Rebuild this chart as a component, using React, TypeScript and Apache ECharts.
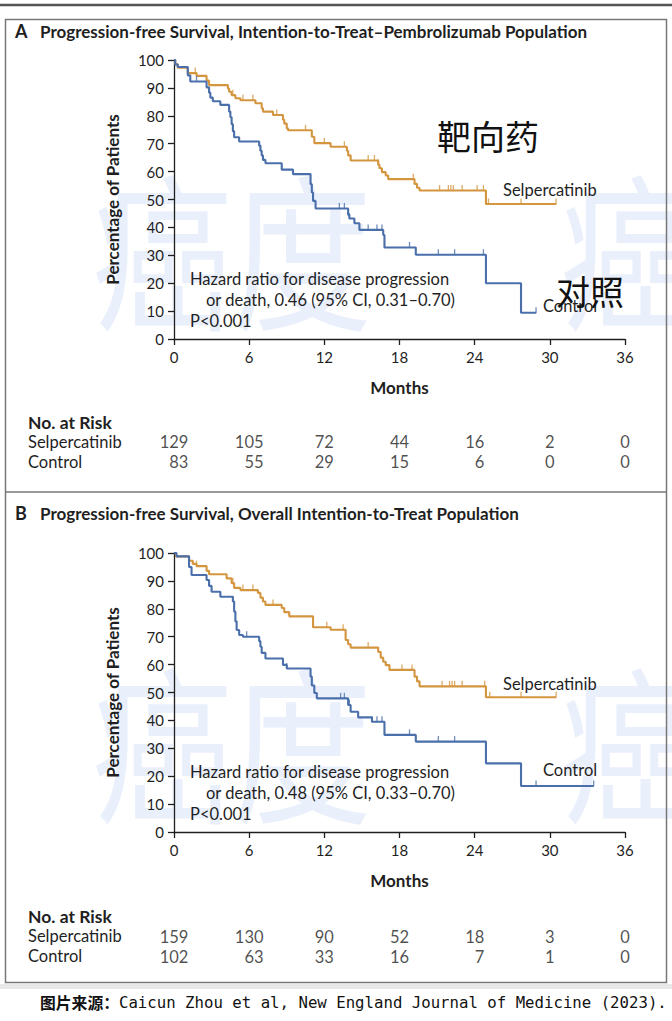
import React, { useEffect, useRef } from "react";
import * as echarts from "echarts";

// ---------- DATA ----------
const monthTicks = [0, 6, 12, 18, 24, 30, 36];

// Panel A: Intention-to-Treat–Pembrolizumab population  [month, % progression-free]
const selA: [number, number][] = [
  [0, 100], [0.1, 98.5], [0.3, 97.2], [1.1, 95.3], [1.8, 94.3], [2.6, 92.6], [2.8, 91.0],
  [4.3, 89.8], [4.4, 88.6], [4.6, 87.4], [4.9, 86.3], [5.3, 85.6], [6.5, 84.5], [7.0, 82.7],
  [7.1, 81.5], [7.9, 80.3], [8.7, 78.6], [8.8, 77.2], [9.0, 75.5], [9.1, 74.8], [11.0, 72.5],
  [11.2, 70.2], [12.5, 68.9], [13.8, 67.5], [13.9, 65.8], [14.1, 64.0], [16.3, 62.5],
  [16.4, 61.2], [16.6, 59.8], [16.9, 58.6], [17.1, 57.3], [19.2, 55.6], [19.4, 54.2],
  [19.6, 53.2], [24.9, 48.4], [30.5, 48.4],
];
const ctrlA: [number, number][] = [
  [0, 100], [0.1, 98.4], [0.3, 97.5], [1.1, 94.5], [1.3, 92.3], [2.6, 90.2], [2.8, 88.3],
  [2.9, 86.5], [3.1, 85.2], [3.7, 83.9], [4.4, 81.5], [4.5, 79.5], [4.6, 77.0], [4.7, 74.5],
  [4.8, 72.3], [5.2, 70.8], [6.8, 69.3], [6.9, 67.5], [7.0, 65.8], [7.1, 64.2], [7.3, 63.0],
  [8.6, 60.7], [9.5, 59.1], [10.9, 55.5], [11.0, 52.5], [11.1, 49.5], [11.3, 46.8],
  [13.9, 44.5], [14.0, 43.2], [14.4, 41.5], [14.8, 39.1], [16.7, 37.3], [16.8, 32.8],
  [19.3, 30.2], [24.9, 20.0], [27.7, 9.4], [28.9, 9.4],
];
const censorSelA = [1.7, 4.7, 5.5, 6.3, 8.2, 10.5, 12.0, 13.6, 15.5, 16.0, 16.3, 19.1, 21.2, 21.9, 22.1, 22.3, 23.0, 24.2, 24.7, 25.1, 27.7, 30.5];
const censorCtrlA = [1.8, 4.7, 6.9, 13.2, 13.6, 14.0, 15.5, 16.2, 16.6, 18.8, 21.1, 22.4, 24.7, 28.9];

// Panel B: Overall Intention-to-Treat population
const selB: [number, number][] = [
  [0, 100], [0.15, 98.8], [1.2, 97.2], [1.5, 96.1], [1.8, 95.3], [2.6, 93.6], [2.8, 92.4],
  [4.2, 90.9], [4.6, 89.2], [4.8, 87.5], [5.3, 86.7], [6.7, 85.7], [6.9, 84.0], [7.1, 82.6],
  [7.3, 81.4], [8.6, 80.3], [8.8, 78.8], [9.2, 77.3], [11.1, 73.4], [12.5, 72.5], [13.7, 68.8],
  [13.9, 67.3], [14.1, 66.1], [16.3, 64.5], [16.5, 62.5], [16.7, 61.0], [16.9, 59.8],
  [17.2, 58.1], [19.2, 55.7], [19.4, 54.0], [19.6, 52.2], [24.9, 48.3], [30.5, 48.3],
];
const ctrlB: [number, number][] = [
  [0, 100], [0.2, 98.8], [1.2, 95.0], [1.4, 92.1], [2.6, 90.3], [2.8, 88.2], [3.0, 86.1],
  [3.7, 84.3], [4.7, 82.6], [4.8, 79.0], [4.9, 75.5], [5.0, 72.4], [5.2, 70.6], [5.5, 70.0],
  [6.8, 68.4], [6.9, 66.4], [7.0, 64.2], [7.3, 62.2], [8.7, 59.9], [9.0, 58.6], [10.9, 55.7],
  [11.0, 52.5], [11.2, 49.8], [11.4, 47.9], [13.9, 45.5], [14.1, 43.1], [14.7, 41.1],
  [15.8, 39.5], [16.8, 34.8], [19.3, 32.4], [24.9, 24.6], [27.7, 16.5], [33.5, 16.5],
];
const censorSelB = [1.8, 4.7, 5.5, 6.3, 7.9, 11.1, 12.2, 13.5, 15.5, 18.2, 19.0, 21.4, 22.0, 22.2, 22.4, 23.0, 24.8, 25.2, 27.7, 30.5];
const censorCtrlB = [4.7, 5.8, 9.0, 13.3, 13.6, 14.0, 15.8, 16.2, 16.6, 18.8, 21.1, 22.4, 28.9, 33.5];

// Numbers at risk
const riskRows = ["Selpercatinib", "Control"];
const riskSelA = [129, 105, 72, 44, 16, 2, 0];
const riskCtrlA = [83, 55, 29, 15, 6, 0, 0];
const riskSelB = [159, 130, 90, 52, 18, 3, 0];
const riskCtrlB = [102, 63, 33, 16, 7, 1, 0];

// Texts
const titleA = "Progression-free Survival, Intention-to-Treat–Pembrolizumab Population";
const titleB = "Progression-free Survival, Overall Intention-to-Treat Population";
const hazardA = ["Hazard ratio for disease progression", "or death, 0.46 (95% CI, 0.31–0.70)", "P<0.001"];
const hazardB = ["Hazard ratio for disease progression", "or death, 0.48 (95% CI, 0.33–0.70)", "P<0.001"];

const SEL = "#D4953F";
const CTRL = "#4A6FAB";
const INK = "#1f1f1f";
const FONT = "Lato";
const BODY = 16.5;

function stepValue(data: [number, number][], t: number) {
  let v = data[0][1];
  for (const [x, y] of data) {
    if (x <= t) v = y;
    else break;
  }
  return v;
}

function kmSeries(data: [number, number][], censors: number[], color: string, gi: number) {
  return [
    {
      type: "line",
      xAxisIndex: gi,
      yAxisIndex: gi,
      data,
      step: "end",
      showSymbol: false,
      symbol: "none",
      lineStyle: { color, width: 2.1 },
      z: 5,
    },
    {
      type: "scatter",
      xAxisIndex: gi,
      yAxisIndex: gi,
      data: censors.map((t) => [t, stepValue(data, t)]),
      symbol: "rect",
      symbolSize: [1.3, 6],
      symbolOffset: [0, -2.5],
      itemStyle: { color },
      z: 6,
    },
  ];
}

function riskSeries(sel: number[], ctrl: number[], gi: number) {
  const data: any[] = [];
  monthTicks.forEach((m, i) => {
    const digits = Math.max(String(sel[i]).length, String(ctrl[i]).length);
    const dx = digits * 4.8;
    data.push({ value: [m, riskRows[0], sel[i]], label: { offset: [dx, 0] } });
    data.push({ value: [m, riskRows[1], ctrl[i]], label: { offset: [dx, 0] } });
  });
  return {
    type: "scatter",
    xAxisIndex: gi,
    yAxisIndex: gi,
    data,
    symbolSize: 1,
    itemStyle: { color: "rgba(0,0,0,0)" },
    label: {
      show: true,
      position: "inside",
      align: "right",
      verticalAlign: "middle",
      formatter: (p: any) => String(p.value[2]),
      fontSize: BODY,
      fontFamily: FONT,
      color: INK,
    },
  };
}

function plotXAxis(gi: number) {
  return {
    type: "value",
    gridIndex: gi,
    min: 0,
    max: 36,
    interval: 6,
    axisLine: { show: true, lineStyle: { color: INK, width: 1.3 } },
    axisTick: { show: true, length: 6, lineStyle: { color: INK, width: 1.3 } },
    axisLabel: { fontSize: 15, color: INK, margin: 10, fontFamily: FONT },
    splitLine: { show: false },
    name: "Months",
    nameLocation: "middle",
    nameGap: 40,
    nameTextStyle: { fontSize: 17, fontWeight: "bold", color: INK, fontFamily: FONT },
  };
}
function plotYAxis(gi: number) {
  return {
    type: "value",
    gridIndex: gi,
    min: 0,
    max: 100,
    interval: 10,
    axisLine: { show: true, lineStyle: { color: INK, width: 1.3 } },
    axisTick: { show: true, length: 6, lineStyle: { color: INK, width: 1.3 } },
    axisLabel: { fontSize: 15, color: INK, margin: 10, fontFamily: FONT },
    splitLine: { show: false },
    name: "Percentage of Patients",
    nameLocation: "middle",
    nameGap: 53,
    nameTextStyle: { fontSize: 17, fontWeight: "bold", color: INK, fontFamily: FONT },
  };
}
function riskXAxis(gi: number) {
  return { type: "value", gridIndex: gi, min: 0, max: 36, interval: 6, show: false };
}
function riskYAxis(gi: number) {
  return { type: "category", gridIndex: gi, data: riskRows, inverse: true, show: false };
}

function txt(x: number, y: number, text: string, extra: any = {}) {
  return {
    type: "text",
    x,
    y,
    silent: true,
    style: {
      text,
      fontFamily: FONT,
      fontSize: BODY,
      fill: INK,
      verticalAlign: "middle",
      ...extra,
    },
  };
}

function watermark(x: number, y: number, text: string) {
  return {
    type: "text",
    x,
    y,
    z: -1,
    scaleY: 1.2,
    silent: true,
    style: {
      text,
      fontFamily: "Noto Sans CJK SC",
      fontSize: 140,
      fill: "#eaf0fb",
      verticalAlign: "middle",
    },
  };
}

function panelTexts(dyTitle: number, dy: number, title: string, letter: string, hazard: string[], risk: number) {
  return [
    txt(15, 31 + dyTitle, letter, { fontSize: 18, fontWeight: "bold" }),
    txt(40, 31 + dyTitle, title, { fontSize: 17, fontWeight: "bold" }),
    txt(190, 279 + dy, hazard[0]),
    txt(206, 300 + dy, hazard[1]),
    txt(190, 321 + dy, hazard[2]),
    txt(28, 422 + risk, "No. at Risk", { fontSize: 17.5, fontWeight: "bold" }),
    txt(28, 442 + risk, riskRows[0]),
    txt(28, 462 + risk, riskRows[1]),
  ];
}

export default function App() {
  const ref = useRef<HTMLDivElement>(null);
  useEffect(() => {
    document.body.style.margin = "0";
    const chart = echarts.init(ref.current!, undefined, { renderer: "svg" });
    const DB = 493; // vertical offset of panel B plot
    chart.setOption({
      animation: false,
      backgroundColor: "#ffffff",
      textStyle: { fontFamily: FONT },
      grid: [
        { left: 174, top: 60, width: 451, height: 279 },
        { left: 174, top: 60 + DB, width: 451, height: 279 },
        { left: 174, top: 432, width: 451, height: 40 },
        { left: 174, top: 432 + 495, width: 451, height: 40 },
      ],
      xAxis: [plotXAxis(0), plotXAxis(1), riskXAxis(2), riskXAxis(3)],
      yAxis: [plotYAxis(0), plotYAxis(1), riskYAxis(2), riskYAxis(3)],
      series: [
        ...kmSeries(selA, censorSelA, SEL, 0),
        ...kmSeries(ctrlA, censorCtrlA, CTRL, 0),
        ...kmSeries(selB, censorSelB, SEL, 1),
        ...kmSeries(ctrlB, censorCtrlB, CTRL, 1),
        riskSeries(riskSelA, riskCtrlA, 2),
        riskSeries(riskSelB, riskCtrlB, 3),
      ],
      graphic: [
        watermark(92, 245, "癌度"),
        watermark(560, 245, "癌"),
        watermark(92, 245 + DB, "癌度"),
        watermark(560, 245 + DB, "癌"),
        { type: "line", silent: true, shape: { x1: 0, y1: 5, x2: 672, y2: 5 }, style: { stroke: "#555", lineWidth: 2.5 } },
        { type: "rect", silent: true, shape: { x: 5.5, y: 19.5, width: 661, height: 963 }, style: { fill: "none", stroke: "#777", lineWidth: 1.5 } },
        { type: "line", silent: true, shape: { x1: 5, y1: 492, x2: 666, y2: 492 }, style: { stroke: "#777", lineWidth: 1.5 } },
        { type: "rect", silent: true, shape: { x: 0, y: 984, width: 672, height: 5 }, style: { fill: "#e8e8e8" } },
        ...panelTexts(0, 0, titleA, "A", hazardA, 0),
        ...panelTexts(482, DB, titleB, "B", hazardB, 494),
        txt(503, 190, "Selpercatinib"),
        txt(543, 306, "Control"),
        txt(503, 684, "Selpercatinib"),
        txt(543, 770, "Control"),
        txt(437, 135, "靶向药", { fontFamily: "Noto Sans CJK SC", fontSize: 34, fill: "#111" }),
        txt(556, 290, "对照", { fontFamily: "Noto Sans CJK SC", fontSize: 34, fill: "#111" }),
        {
          type: "text",
          x: 40,
          y: 1002,
          silent: true,
          style: {
            text: "{a|图片来源：}{b|Caicun Zhou et al, New England Journal of Medicine (2023).}",
            verticalAlign: "middle",
            rich: {
              a: { fontFamily: "Noto Sans CJK SC", fontWeight: "bold", fontSize: 15.8, fill: "#111" },
              b: { fontFamily: "DejaVu Sans Mono", fontSize: 15.7, fill: "#111" },
            },
          },
        },
      ],
    });
    return () => chart.dispose();
  }, []);
  return <div ref={ref} style={{ width: 672, height: 1021 }} />;
}
